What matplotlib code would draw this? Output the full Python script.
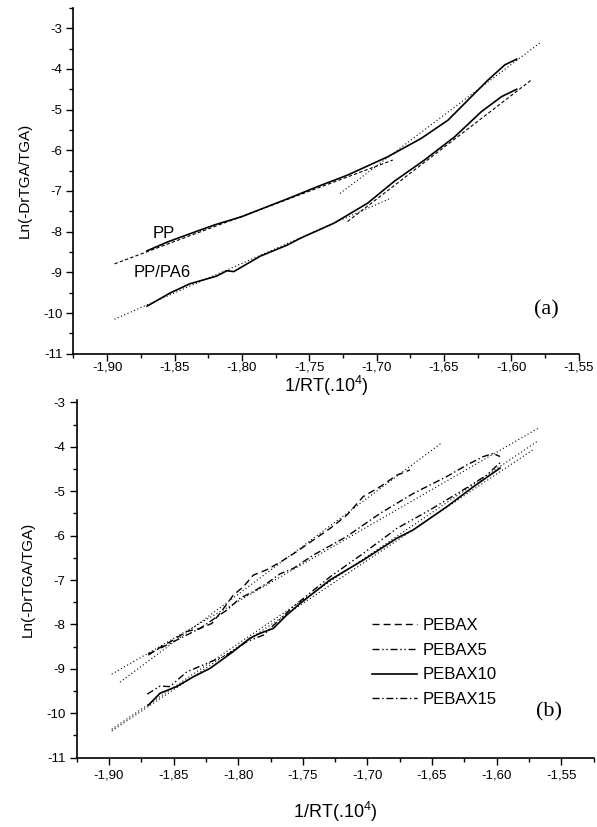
import numpy as np
import matplotlib.pyplot as plt
from matplotlib.ticker import MultipleLocator

plt.rcParams['font.family'] = ['Liberation Sans', 'DejaVu Sans']
plt.rcParams['mathtext.default'] = 'regular'

# x ticks shared by both panels (decimal comma as in the original)
xticks = [-1.90, -1.85, -1.80, -1.75, -1.70, -1.65, -1.60, -1.55]
xtick_labels = ['-1,90', '-1,85', '-1,80', '-1,75', '-1,70', '-1,65', '-1,60', '-1,55']
yticks = [-11, -10, -9, -8, -7, -6, -5, -4, -3]

# panel (a): measured curves
pp_x = [-1.8704, -1.855, -1.836, -1.82, -1.80, -1.78, -1.7652, -1.7437, -1.7216,
        -1.6918, -1.667, -1.647, -1.632, -1.6172, -1.6048, -1.596]
pp_y = [-8.47, -8.25, -8.02, -7.83, -7.63, -7.37, -7.18, -6.89, -6.61,
        -6.16, -5.71, -5.26, -4.76, -4.27, -3.90, -3.76]
pa6_x = [-1.8704, -1.8535, -1.8386, -1.8187, -1.8112, -1.806, -1.7863, -1.7664, -1.7565,
         -1.7316, -1.7067, -1.6868, -1.6645, -1.6421, -1.6222, -1.6072, -1.596]
pa6_y = [-9.83, -9.51, -9.28, -9.09, -8.96, -8.98, -8.60, -8.33, -8.16,
         -7.79, -7.30, -6.76, -6.24, -5.67, -5.05, -4.68, -4.50]

# panel (a): linear fits (end points)
pp_fit1_x, pp_fit1_y = [-1.8945, -1.688], [-8.79, -6.24]
pp_fit2_x, pp_fit2_y = [-1.7272, -1.5787], [-7.06, -3.36]
pa6_fit1_x, pa6_fit1_y = [-1.8946, -1.689], [-10.15, -7.17]
pa6_fit2_x, pa6_fit2_y = [-1.7216, -1.5846], [-7.75, -4.26]

# panel (b): measured curves
pebax_x = [-1.8696, -1.8605, -1.8502, -1.8399, -1.8296, -1.8205, -1.8141, -1.8038, -1.796,
           -1.7883, -1.778, -1.7676, -1.7547, -1.7419, -1.729, -1.716, -1.7032, -1.6902,
           -1.6773, -1.667]
pebax_y = [-8.69, -8.52, -8.35, -8.16, -8.09, -7.98, -7.75, -7.34, -7.15,
           -6.89, -6.77, -6.60, -6.36, -6.10, -5.84, -5.54, -5.12, -4.90,
           -4.64, -4.52]
pebax5_x = [-1.8704, -1.8605, -1.8528, -1.8399, -1.827, -1.8089, -1.7934, -1.7806, -1.7574,
            -1.729, -1.7032, -1.6773, -1.6515, -1.6258, -1.6077, -1.5974]
pebax5_y = [-9.57, -9.39, -9.40, -9.07, -8.91, -8.69, -8.39, -8.24, -7.60,
            -6.93, -6.40, -5.84, -5.42, -4.97, -4.64, -4.36]
pebax10_x = [-1.8696, -1.8605, -1.8476, -1.8347, -1.8218, -1.8038, -1.7909, -1.7831, -1.7728,
             -1.7625, -1.7522, -1.729, -1.7032, -1.6773, -1.6645, -1.6386, -1.618, -1.5974]
pebax10_y = [-9.82, -9.55, -9.40, -9.18, -8.99, -8.61, -8.31, -8.20, -8.09,
             -7.79, -7.53, -7.00, -6.55, -6.06, -5.87, -5.35, -4.90, -4.48]
pebax15_x = [-1.8696, -1.8502, -1.8296, -1.8166, -1.8089, -1.7986, -1.7883, -1.778, -1.7676,
             -1.7574, -1.7419, -1.716, -1.6902, -1.6645, -1.6386, -1.6231, -1.6103, -1.6025,
             -1.5974]
pebax15_y = [-8.67, -8.39, -8.09, -7.83, -7.68, -7.41, -7.26, -7.08, -6.86,
             -6.74, -6.44, -6.02, -5.50, -5.05, -4.67, -4.41, -4.22, -4.15,
             -4.22]

# panel (b): linear fits (end points)
fit_pebax_x, fit_pebax_y = [-1.8915, -1.6425], [-9.30, -3.91]
fit_pebax15_x, fit_pebax15_y = [-1.8979, -1.5677], [-9.12, -3.58]
fit_pebax5_x, fit_pebax5_y = [-1.8979, -1.5677], [-10.36, -3.86]
fit_pebax10_x, fit_pebax10_y = [-1.8979, -1.571], [-10.40, -4.05]

DOT = (0, (1, 2.2))
DASH = (0, (3, 2))


def style_axes(ax, xlim, ylim, tickpad, xlabelpad):
    ax.set_xlim(*xlim)
    ax.set_ylim(*ylim)
    ax.set_xticks(xticks)
    ax.set_xticklabels(xtick_labels)
    ax.set_yticks(yticks)
    ax.set_yticklabels([str(v) for v in yticks])
    ax.xaxis.set_minor_locator(MultipleLocator(0.025))
    ax.yaxis.set_minor_locator(MultipleLocator(0.5))
    ax.spines['top'].set_visible(False)
    ax.spines['right'].set_visible(False)
    for s in ('left', 'bottom'):
        ax.spines[s].set_linewidth(1.2)
    ax.tick_params(which='major', direction='out', length=5, width=1.0,
                   labelsize=9.5, pad=3)
    ax.tick_params(axis='x', which='major', pad=tickpad)
    ax.tick_params(which='minor', direction='out', length=3, width=1.0)
    ax.set_xlabel('1/RT(.10$^4$)', fontsize=13, labelpad=xlabelpad)
    ax.set_ylabel('Ln(-DrTGA/TGA)', fontsize=11, labelpad=8)
    ax.patch.set_visible(False)


fig = plt.figure(figsize=(5.97, 8.27), dpi=100)

# ---- panel (a)
ax1 = fig.add_axes([0.1231, 0.5722, 0.8462, 0.4183])
ax1.plot(pp_x, pp_y, color='black', lw=1.2)
ax1.plot(pa6_x, pa6_y, color='black', lw=1.2)
ax1.plot(pp_fit1_x, pp_fit1_y, color='black', lw=0.8, ls=DASH)
ax1.plot(pp_fit2_x, pp_fit2_y, color='black', lw=0.8, ls=DOT)
ax1.plot(pa6_fit1_x, pa6_fit1_y, color='black', lw=0.8, ls=DOT)
ax1.plot(pa6_fit2_x, pa6_fit2_y, color='black', lw=0.8, ls=DASH)
ax1.text(-1.8582, -8.04, 'PP', fontsize=12, ha='center', va='center')
ax1.text(-1.8592, -9.0, 'PP/PA6', fontsize=12, ha='center', va='center')
ax1.text(-1.5737, -9.92, '(a)', fontsize=16, family='Liberation Serif',
         ha='center', va='center')
style_axes(ax1, (-1.925, -1.55), (-11, -2.5), tickpad=0.5, xlabelpad=0.5)

# ---- panel (b)
ax2 = fig.add_axes([0.1285, 0.0839, 0.8657, 0.4322])
ax2.plot(pebax_x, pebax_y, color='black', lw=1.0, ls=(0, (5, 3)), label='PEBAX')
ax2.plot(pebax5_x, pebax5_y, color='black', lw=1.0, ls=(0, (5, 2, 1, 2, 1, 2)), label='PEBAX5')
ax2.plot(pebax10_x, pebax10_y, color='black', lw=1.2, label='PEBAX10')
ax2.plot(pebax15_x, pebax15_y, color='black', lw=1.0, ls=(0, (5, 2, 1, 2)), label='PEBAX15')
for fx, fy in [(fit_pebax_x, fit_pebax_y), (fit_pebax15_x, fit_pebax15_y),
               (fit_pebax5_x, fit_pebax5_y), (fit_pebax10_x, fit_pebax10_y)]:
    ax2.plot(fx, fy, color='black', lw=0.8, ls=DOT)
ax2.text(-1.5592, -9.97, '(b)', fontsize=16, family='Liberation Serif',
         ha='center', va='center')
ax2.legend(loc='center left', bbox_to_anchor=(0.571, 0.266), frameon=False,
           fontsize=12, handlelength=2.7, handletextpad=0.36, labelspacing=0.58,
           borderpad=0, borderaxespad=0)
style_axes(ax2, (-1.925, -1.525), (-11, -2.95), tickpad=3.5, xlabelpad=13)

fig.savefig('out.png', dpi=100)
